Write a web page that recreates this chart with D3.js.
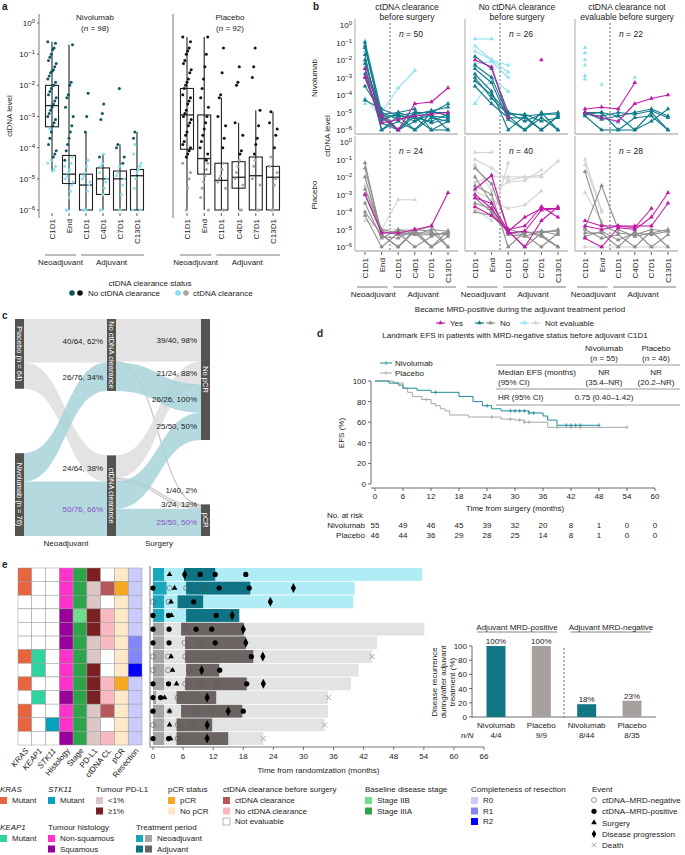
<!DOCTYPE html>
<html><head><meta charset="utf-8">
<script src="https://cdn.jsdelivr.net/npm/d3@7"></script>
<style>body{margin:0;background:#fff}text{font-family:"Liberation Sans",Arial,sans-serif;font-size:8px;fill:#222}</style>
</head><body><svg id="c" width="685" height="855"></svg>
<script>
// ================= DATA =================
// Panel a
const aCats=["C1D1","End","C1D1","C4D1","C7D1","C13D1"];
const aArms=["Nivolumab","Placebo"];
const aN=[98,92];
const nivoBox=[[-4.75,-3.33,-2.65,-2,-0.6],[-6,-5.15,-4.85,-4.25,-0.7],[-6,-6,-5.2,-4.85,-3.5],[-6,-5.5,-5,-4.65,-4.2],[-6,-6,-5,-4.75,-3.9],[-6,-6,-4.9,-4.7,-3.5]];
const placBox=[[-6,-4.05,-2.95,-2.1,-0.45],[-6,-4.85,-4.35,-2.95,-0.45],[-6,-6,-5.05,-4.5,-2.4],[-6,-5.3,-4.95,-4.45,-3.2],[-6,-6,-4.9,-4.3,-2.8],[-6,-6,-4.95,-4.6,-2.85]];
const nivoDark=[[-0.6,-0.65,-0.8,-0.85,-1,-1.1,-1.2,-1.3,-1.4,-1.5,-1.55,-1.6,-1.7,-1.8,-1.9,-2,-2,-2.1,-2.2,-2.3,-2.4,-2.5,-2.6,-2.7,-2.8,-2.9,-3,-3.1,-3.2,-3.3,-3.5,-3.7,-3.9,-4.1,-4.2,-4.3],
 [-0.7,-1.9,-2,-2.3,-2.4,-2.7,-3,-3.3,-3.5,-3.7,-3.9,-4.1,-4.4],[-2.25,-3,-3.5],[-2.6,-2.9,-3.1,-4.3],[-2.1,-3.9,-4,-4.3,-4.5],[-3.5,-3.7]];
const nivoLight=[[-4.5,-4.6,-4.7,-4.75,-4.4,-3.4],[-4.3,-4.5,-4.7,-4.8,-4.9,-5,-5.1,-5.2,-5.4,-5.6,-6,-6,-4.6],[-4.4,-4.6,-4.8,-4.9,-5,-5.1,-5.2,-5.4,-6,-6,-6],
 [-4.2,-4.5,-4.6,-4.8,-5,-5.1,-5.3,-5.5,-6,-6],[-4.6,-4.8,-4.9,-5,-5.2,-5.5,-6],[-3.9,-4.2,-4.5,-4.6,-4.7,-4.8,-5,-5.3,-6,-6]];
const placDark=[[-0.45,-0.6,-0.8,-0.9,-1,-1.2,-1.3,-1.5,-1.6,-1.8,-1.9,-2,-2.1,-2.3,-2.4,-2.5,-2.6,-2.8,-2.9,-3,-3.1,-3.2,-3.3,-3.5,-3.6,-3.8,-3.9,-4,-4.1,-4.2,-4.3],
 [-0.45,-1,-1.4,-1.8,-2.1,-2.4,-2.7,-3,-3.2,-3.4,-3.6,-3.8,-4,-4.2,-4.4],[-0.8,-1.6,-2.3,-2.4,-3,-3.3,-3.7,-4],[-1.4,-1.9,-2.0,-3.2,-3.6,-4.1,-4.2],[-0.8,-1.4,-1.75,-2.8,-3.3,-3.7,-3.9,-4.2],[-2.85,-3.2,-3.4,-3.6,-4.0]];
const placLight=[[-4.5,-4.8,-5,-5.3,-6],[-4.5,-4.7,-4.9,-5.1,-5.3,-5.6,-6],[-4.5,-4.7,-4.9,-5,-5.1,-5.3,-6,-6],[-4.4,-4.6,-4.8,-5,-5.2,-6,-6],[-4.4,-4.6,-5,-5.2,-6,-6],[-4.3,-4.6,-4.8,-5,-5.2,-6,-6]];

// Panel b  (status, C1D1, End, C1D1, C4D1, C7D1, C13D1) log10 values
const bTitles=[["ctDNA clearance","before surgery"],["No ctDNA clearance","before surgery"],["ctDNA clearance not","evaluable before surgery"]];
const bN=[[50,26,22],[24,40,28]];
const bNivoClear=[["ne",-0.9,-5,-3.6,-2.6,null,null],["ne",-4.2,-5.3,-5.1,-5.1,-5.3,-5.2],["ne",-4.5,null,null,null,null,null],["ne",-1.5,null,null,null,null,null],
 ["no",-1,-5,-6,-5,-5.2,-5.3],["no",-1.3,-5.2,-5.2,-6,-5,-5],["no",-2,-5.5,-5,-5.3,-6,-5.5],["no",-2.5,-6,-5.2,-5,-5,-4.5],["no",-3,-5.3,-6,-5.5,-5.1,-6],["no",-3.5,-5,-5.4,-5.1,-4.9,-5.2],["no",-1.7,-6,-5.5,-6,-5.3,-5.5],["no",-2.2,-5.1,-5,-4.8,-6,-6],["no",-4.3,-4.8,-5.2,-5.3,-5.5,-5.1],["no",-1.2,-5.4,-5.1,-5.5,-4.9,-4.7],["no",-2.8,-5.6,-6,-5.2,-5.6,-5.4],
 ["yes",-2.5,-5.2,-6,-4.5,-4.4,-3.6],["yes",-3,-5.6,-5.4,-5.2,-5.1,-5]];
const bNivoNoClear=[["ne",-0.8,-0.8,null,null,null,null],["ne",-1.2,-2,-2.3,null,null,null],["ne",-2.2,-2.1,-3,null,null,null],["ne",-4.5,-3,-3.8,null,null,null],["ne",-1.5,-2,-2.7,null,null,null],
 ["no",-1.8,-2.5,-5,-5.2,-5.1,-5.1],["no",-2.3,-3,-5.2,-6,-5.3,-6],["no",-2.8,-3.8,-6,-5.2,-6,-5.2],["no",-3.2,-4,-5,-5.5,-5.1,-5],["no",-3.5,-4.5,-5.3,-5.3,-6,-5.2],["no",-2.5,-3.3,-5.4,-6,-5,-6],["no",-3,-4.2,-5.1,-5.1,-5.5,-5.3],
 ["yes",-2,-2.4,-5.3,null,-2,null]];
const bNivoNE=[["ne",-1.3,null,null,null,null,null],["ne",-1.6,null,null,null,null,null],["ne",-2,null,null,null,null,null],["ne",-2.3,null,null,null,null,null],["ne",-2.9,null,null,null,null,null],["ne",-3.1,null,null,null,null,null],["ne",null,-3.4,null,null,null,null],["ne",null,null,null,-3,null,null],["ne",null,-5.3,-5.6,null,null,null],
 ["no",-5,-5,-6,-6,-5,-6],["no",-5.1,-5.2,-5,-5.1,-4.9,-5.3],["no",-5.2,-6,-6,-5.3,-5.2,-6],["no",-5,-5.4,-5.2,-5,-4.8,-5.2],["no",-5.1,-5,-5.2,-6,-5.5,-4.8],
 ["yes",-4.8,-4.7,-4.8,-3.3,null,null],["yes",-5,-5.3,-5.5,-4.5,-4.2,-4]];
const bPlacClear=[["ne",-2.5,-5,-3.3,-3.3,null,null],["ne",-4.5,-5,-5,-5,null,null],
 ["no",-1.5,-5.2,-5.1,-5.3,-5,-5.1],["no",-2,-5.3,-6,-5,-5.1,-6],["no",-2.7,-5,-5.2,-6,-5.4,-5.1],["no",-3.5,-5.5,-5,-5.2,-6,-5.4],["no",-4,-5.3,-6,-5.1,-4.8,-6],["no",-3,-5.1,-5.3,-5.2,-5.2,-5.3],["no",-4.2,-6,-5.2,-5.3,-5.3,-5.2],["no",-1.2,-5.4,-5.5,-5,-6,-5.1],
 ["yes",-3,-5.2,-5.2,-5,-4.8,-2.9]];
const bPlacNoClear=[["ne",-0.6,-0.6,null,null,null,null],["ne",-1,-1.5,-2.2,-2,-1.9,-1.1],["ne",-1.3,-2.8,-2.3,-2.2,-1.6,null],["ne",-2.8,-3.3,-3.8,-3.6,-2.8,null],["ne",-3.8,-4.5,-1.2,null,null,null],["ne",-2.3,-2,-2,-2,-2,null],
 ["no",-1.5,-2.4,-5,-5.2,-5.1,-5.1],["no",-2.5,-3,-6,-5.1,-5.3,-6],["no",-3.2,-4,-5.2,-5.3,-6,-5.2],["no",-4,-4.2,-5.1,-6,-5.2,-5],["no",-2,-3.5,-5.3,-5.4,-5.1,-5.3],["no",-3.5,-3.8,-5.2,-5.1,-5.4,-6],
 ["yes",-2.7,-1.9,-5.1,-4.3,-3.8,-3.8],["yes",-3.2,-3.5,-5.1,-6,-4.5,-3.7],["yes",-3.7,-4.2,-5,-4.8,-3.7,-4.3],["yes",-3,-3.8,-5.2,-5.1,-3.9,-3.8]];
const bPlacNE=[["ne",-1,-3.9,null,null,null,null],["ne",-1.3,-4,null,null,null,null],["ne",-2.9,-4.5,null,null,null,null],["ne",-6,-6,-6,-6,-6,-6],
 ["no",-1.7,-4.7,-5.2,-5.3,-5,-5.1],["no",-4.9,-2.5,-5,-5.4,-5.2,-5],["no",-5.2,-5.2,-6,-5.1,-6,-5.3],["no",-5,-5.5,-5.3,-6,-5.1,-6],["no",-5.4,-5.1,-5.6,-5.2,-5.3,-5.1],
 ["yes",-4.5,-4.8,-4.8,-4.8,-4.8,-3.5],["yes",-4.8,-5,-4.8,-4.9,-3.8,null],["yes",-5.5,-6,-4.9,-5,-4.3,-2.9]];

// Panel c (source, target, count, arm)
const cNodes=["Placebo (n = 64)","Nivolumab (n = 76)","No ctDNA clearance","ctDNA clearance","No pCR","pCR"];
const cFlows=[[0,2,40,"P"],[0,3,24,"P"],[1,2,26,"N"],[1,3,50,"N"],[2,4,39,"P"],[2,5,1,"P"],[2,4,26,"N"],[3,4,21,"P"],[3,5,3,"P"],[3,4,25,"N"],[3,5,25,"N"]];
const cTargetOrder=[[0,2],[1,3],[4,7,6,9],[5,8,10]];
const cLabels=["40/64, 62%","24/64, 38%","26/76, 34%","50/76, 66%","39/40, 98%","1/40, 2%","26/26, 100%","21/24, 88%","3/24, 12%","25/50, 50%","25/50, 50%"];

// Panel d
const dTicks=[0,6,12,18,24,30,36,42,48,54,60];
const nivoT=[0,3,5,6,9,12,18,21,23,25,27,33,36,37,39,48];
const nivoS=[100,98,96,93,91,89,85,80,76,73,71,69,66,62,57,57];
const nivoCens=[13,24,29,30,31,32,33,34,41,42,43,44,48];
const placT=[0,4,6,7,8,10,12,13,14,15,16,20,27,30,32,37,54];
const placS=[100,98,93,89,85,82,78,76,73,71,67,65,63,62,60,55,55];
const placCens=[11,25,29,31,32,33,39,42,44,54];
const riskNivo=[55,49,46,45,39,32,20,8,1,0,0];
const riskPlac=[46,44,36,29,28,25,14,8,1,0,0];

// Panel e
const eCols=["KRAS","KEAP1","STK11","Histology","Stage","PD-L1","ctDNA CL","pCR","Resection"];
const eHeat=[
 ["mut","w","w","ns","3a","hi","ne","no","r0"],["mut","w","w","ns","3a","lo","cl","p","r0"],["w","w","w","ns","3a","lo","ne","no","r0"],["w","w","w","sq","2b","hi","ncl","no","r0"],
 ["w","w","w","sq","3a","hi","ncl","no","r0"],["w","w","w","sq","3a","lo","ncl","no","r1"],["mut","k","w","ns","3a","lo","ne","no","r1"],["w","k","w","ns","3a","hi","ne","no","r2"],
 ["mut","w","w","ns","3a","hi","ncl","p","r0"],["w","k","w","sq","3a","hi","ncl","no","r0"],["mut","w","w","ns","3a","lo","cl","no","r0"],["mut","w","s","ns","3a","lo","ne","no","r0"],["w","w","w","sq","3a","lo","ncl","no","r0"]];
const eArm=["N","N","N","N","P","P","P","P","P","P","P","P","P"];
const eNeoEnd=[2.2,2.7,2.2,2.2,2.2,2.2,2.2,2.2,2.2,0.6,2.2,2.2,2.2];
const eAdj=[[6.2,12.4],[6.6,19.4],[4.9,10],[6.6,17.2],[5.6,18.1],[6.4,18.5],[6.4,20],[6.6,13.2],[6.4,18.7],[4.7,12.6],[5.6,17.8],[4.7,11.8],[4.7,15]];
const eTotal=[53.7,40.2,39.9,17.2,54.1,44.7,43.7,41,39.5,34.9,34.9,34.2,22];
const eEvents=[
 [[3.3,"s"],[6.3,"p"],[9.4,"f"],[12.4,"f"],[18.5,"f"]],
 [[0,"f"],[3.3,"o"],[4.3,"s"],[6.6,"o"],[10,"o"],[13.2,"f"],[19.2,"f"],[28,"p"]],
 [[0,"o"],[3.1,"o"],[3.6,"s"],[8.1,"f"],[23.4,"p"]],
 [[0,"f"],[3.1,"f"],[3.7,"s"],[12.6,"f"],[15.8,"p"]],
 [[0,"f"],[3.2,"f"],[6.3,"o"],[8.6,"f"],[11.7,"f"],[18,"p"]],
 [[0,"f"],[3.2,"f"],[6.3,"o"],[9.4,"o"],[12.4,"f"],[18.5,"p"]],
 [[0,"o"],[3.0,"o"],[3.6,"s"],[6.4,"o"],[9.6,"o"],[12.6,"o"],[19.6,"f"],[21.9,"p"],[43.7,"x"]],
 [[0,"o"],[3.0,"o"],[3.9,"s"],[7.2,"o"],[9.7,"p"],[13.3,"f"]],
 [[0,"f"],[3.1,"f"],[4.7,"s"],[6.4,"o"],[9.7,"o"],[12.7,"o"],[18.7,"f"],[22,"p"]],
 [[0,"f"],[1.5,"f"],[2.3,"s"],[4.9,"o"],[10.8,"p"],[35,"x"]],
 [[0,"f"],[3.3,"s"],[3.3,"o"],[8.8,"o"],[11.8,"o"],[15,"p"],[18,"f"]],
 [[0,"o"],[3.3,"s"],[4.9,"o"],[7.9,"o"],[10.8,"p"],[34.2,"x"]],
 [[0,"f"],[3.1,"f"],[3.5,"s"],[4.9,"o"],[10.8,"p"],[22,"x"]]];
const fCats=["Nivolumab","Placebo","Nivolumab","Placebo"];
const fVals=[100,100,18,23];
const fNN=["4/4","9/9","8/44","8/35"];

// ================= DRAW =================
const svg=d3.select("#c");
function T(x,y,t,o={}){const e=svg.append("text").attr("x",x).attr("y",y).text(t);
 if(o.a)e.attr("text-anchor",o.a);if(o.s)e.style("font-size",o.s+"px");if(o.w)e.style("font-weight",o.w);if(o.c)e.style("fill",o.c);if(o.i)e.style("font-style","italic");
 if(o.r!=null)e.attr("transform",`rotate(${o.r},${x},${y})`);return e;}
function pow(x,y,e){const t=svg.append("text").attr("x",x).attr("y",y).attr("text-anchor","end");t.append("tspan").text("10");t.append("tspan").attr("dy",-3).style("font-size","6px").text(e===0?"0":"−"+(-e));}
const L=(x1,y1,x2,y2,c="#333",w=0.8,da)=>{const l=svg.append("line").attr("x1",x1).attr("y1",y1).attr("x2",x2).attr("y2",y2).attr("stroke",c).attr("stroke-width",w);if(da)l.attr("stroke-dasharray",da);return l;};
const labels=[["a",2,10],["b",313,10],["c",2,319],["d",317,337],["e",2,568]];
labels.forEach(l=>T(l[1],l[2],l[0],{s:10,w:"bold"}));

// ---- Panel a
{
 const y=d3.scaleLinear().domain([-6,0]).range([210,23]);
 [0,-1,-2,-3,-4,-5,-6].forEach(e=>{pow(35,y(e)+3,e);L(37,y(e),39,y(e));});
 L(39,14,39,218,"#555");L(173,14,173,218,"#555");
 T(12,116,"ctDNA level",{a:"middle",r:-90});
 const ranges=[[52,137],[187,273]];
 const boxes=[nivoBox,placBox],dark=[nivoDark,placDark],light=[nivoLight,placLight];
 const dc=["#0f5663","#111"],lc=["#86dff0","#a9a2a2"];
 aArms.forEach((arm,k)=>{
  const x=d3.scalePoint().domain(d3.range(6)).range(ranges[k]);
  T(k?230:95,20,arm,{a:"middle"});
  const tn=T(k?230:95,31,"(",{a:"middle"});tn.append("tspan").style("font-style","italic").text("n");tn.append("tspan").text(" = "+aN[k]+")");
  boxes[k].forEach((b,i)=>{const xc=x(i);
   L(xc,y(b[0]),xc,y(b[4]),"#222",1.1);
   svg.append("rect").attr("x",xc-6.5).attr("y",y(b[3])).attr("width",13).attr("height",y(b[1])-y(b[3])).attr("fill","none").attr("stroke","#222").attr("stroke-width",1.1);
   L(xc-6.5,y(b[2]),xc+6.5,y(b[2]),"#222",1.3);
   [[light[k][i],lc[k]],[dark[k][i],dc[k]]].forEach(([arr,col])=>arr.forEach((v,j)=>{
    svg.append("circle").attr("cx",xc+((j*37+i*11)%13-6)*0.7).attr("cy",y(v)).attr("r",1.5).attr("fill",col);}));
   L(xc,213,xc,216);
   T(xc+3,219,aCats[i],{a:"end",r:-90});
  });
  L(x(0)-7,255,x(1)+7,255,"#555");L(x(2)-5,255,x(5)+7,255,"#555");
  T((x(0)+x(1))/2,265,"Neoadjuvant",{a:"middle"});T((x(2)+x(5))/2,265,"Adjuvant",{a:"middle"});
 });
 T(150,286,"ctDNA clearance status",{a:"middle"});
 [[72,dc[0]],[80,dc[1]],[178,lc[0]],[186,lc[1]]].forEach(d=>svg.append("circle").attr("cx",d[0]).attr("cy",293).attr("r",2.8).attr("fill",d[1]));
 T(88,296,"No ctDNA clearance");T(193,296,"ctDNA clearance");
}

// ---- Panel b
{
 const facets=[[bNivoClear,bNivoNoClear,bNivoNE],[bPlacClear,bPlacNoClear,bPlacNE]];
 const rowsY=[[130,25],[247,142]];
 const lefts=[355,465,575];
 const cols={N:{no:"#137c8b",ne:"#8fe3f2"},P:{no:"#8f8f8f",ne:"#d3d3d3"},yes:"#c01aa5"};
 const tri=d3.symbol(d3.symbolTriangle).size(9);
 bTitles.forEach((t,c)=>{T(lefts[c]+52,10,t[0],{a:"middle",s:8.5});T(lefts[c]+52,20,t[1],{a:"middle",s:8.5});});
 T(317,78,"Nivolumab",{a:"middle",r:-90});T(317,195,"Placebo",{a:"middle",r:-90});T(330,136,"ctDNA level",{a:"middle",r:-90});
 facets.forEach((row,r)=>{
  const y=d3.scaleLinear().domain([-6,0]).range(rowsY[r]);
  [0,-1,-2,-3,-4,-5,-6].forEach(e=>{pow(352,y(e)+3,e);});
  row.forEach((data,c)=>{
   const x=d3.scalePoint().domain(d3.range(6)).range([lefts[c]+10,lefts[c]+93]);
   L(lefts[c],rowsY[r][1]-6,lefts[c],rowsY[r][0]+4,"#aaa",1);
   L(lefts[c],rowsY[r][0]+4,lefts[c]+103,rowsY[r][0]+4,"#bbb",1.5);
   L(lefts[c]+35,rowsY[r][1]-2,lefts[c]+35,rowsY[r][0]+4,"#444",0.8,"2,2");
   const tn=T(lefts[c]+44,rowsY[r][1]+12,"",{s:8.5});tn.append("tspan").style("font-style","italic").text("n");tn.append("tspan").text(" = "+bN[r][c]);
   const arm=r?"P":"N";
   ["ne","no","yes"].forEach(st=>{
    const col=st==="yes"?cols.yes:cols[arm][st];
    data.filter(d=>d[0]===st).forEach(d=>{
     const v=d.slice(1);
     for(let i=0;i<5;i++)if(v[i]!=null&&v[i+1]!=null)L(x(i),y(v[i]),x(i+1),y(v[i+1]),col,1.1);
     v.forEach((vv,i)=>{if(vv!=null)svg.append("path").attr("d",tri).attr("transform",`translate(${x(i)},${y(vv)})`).attr("fill",col);});
    });
   });
   if(r===1){
    aCats.forEach((cn,i)=>{L(x(i),252,x(i),255);T(x(i)+3,258,cn,{a:"end",r:-90});});
    L(x(0)-8,287,x(1)+6,287,"#555");L(x(2)-5,287,x(5)+8,287,"#555");
    T((x(0)+x(1))/2,297,"Neoadjuvant",{a:"middle"});T((x(2)+x(5))/2,297,"Adjuvant",{a:"middle"});
   }
  });
 });
 T(520,312,"Became MRD-positive during the adjuvant treatment period",{a:"middle"});
 const leg=[[436,[cols.yes],"Yes"],[475,[cols.N.no,cols.P.no],"No"],[520,[cols.N.ne,cols.P.ne],"Not evaluable"]];
 leg.forEach(([x0,cs,t])=>{cs.forEach((c,k)=>{L(x0+k*11,323,x0+k*11+9,323,c,1.2);svg.append("path").attr("d",tri).attr("transform",`translate(${x0+k*11+4.5},323)`).attr("fill",c);});T(x0+cs.length*11+3,326,t);});
}

// ---- Panel c
{
 const k=1.09,nx=[15,107,201],nw=9;
 const nodeCol=[0,0,1,1,2,2];
 const nodeTop={0:319,2:319,4:319};
 const tot=cNodes.map((_,i)=>Math.max(d3.sum(cFlows.filter(f=>f[0]===i),f=>f[2]),d3.sum(cFlows.filter(f=>f[1]===i),f=>f[2])));
 const y0=cNodes.map((_,i)=>nodeTop[i]!=null?nodeTop[i]:536-tot[i]*k);
 const so={},acc={},to={};
 cFlows.forEach((f,i)=>{acc[f[0]]=acc[f[0]]||0;so[i]=acc[f[0]];acc[f[0]]+=f[2];});
 cTargetOrder.forEach(ord=>{let a=0;ord.forEach(fi=>{to[fi]=a;a+=cFlows[fi][2];});});
 const cols={P:"#dedede",N:"#a7d3d9"};
 const fl=cFlows.map((f,i)=>{const sx=nx[nodeCol[f[0]]]+nw,tx=nx[nodeCol[f[1]]];
  const sy=y0[f[0]]+so[i]*k,ty=y0[f[1]]+to[i]*k,h=f[2]*k,mx=(sx+tx)/2;return {f,i,sx,tx,sy,ty,h,mx};});
 ["P","N"].forEach(arm=>fl.filter(d=>d.f[3]===arm).forEach(d=>{
  const p=`M${d.sx},${d.sy}C${d.mx},${d.sy} ${d.mx},${d.ty} ${d.tx},${d.ty}L${d.tx},${d.ty+d.h}C${d.mx},${d.ty+d.h} ${d.mx},${d.sy+d.h} ${d.sx},${d.sy+d.h}Z`;
  svg.append("path").attr("d",p).attr("fill",cols[arm]).attr("opacity",d.f[2]<5?1:0.85).attr("stroke",d.f[2]<5?"#bbb":"none").attr("stroke-width",0.6);
 }));
 cNodes.forEach((n,i)=>{const x=nx[nodeCol[i]];svg.append("rect").attr("x",x).attr("y",y0[i]).attr("width",nw).attr("height",tot[i]*k).attr("fill","#555350");
  T(x+nw/2-2.7,y0[i]+tot[i]*k/2,n,{a:"middle",c:"#fff",r:90,s:7.5});});
 const shift=[0,0,0,0,0,-15,0,0,-3,0,0];
 fl.forEach((d,i)=>{const purple=(d.f[3]==="N"&&(d.f[1]===3||d.f[1]===5));
  T(d.f[0]<2?103:197,d.ty+d.h/2+3+shift[i],cLabels[i],{a:"end",c:purple?"#8a4fc7":"#222"});});
 T(66,546,"Neoadjuvant",{a:"middle"});T(159,546,"Surgery",{a:"middle"});
}

// ---- Panel d
{
 const x=d3.scaleLinear().domain([0,60]).range([375,655]);
 const y=d3.scaleLinear().domain([0,100]).range([484,381]);
 T(515,338,"Landmark EFS in patients with MRD-negative status before adjuvant C1D1",{a:"middle"});
 L(371,y(100),371,y(0),"#444");L(371,488,x(60),488,"#444");
 [0,20,40,60,80,100].forEach(v=>{L(368,y(v),371,y(v),"#444");T(366,y(v)+3,v,{a:"end"});});
 dTicks.forEach(v=>{L(x(v),488,x(v),491,"#444");T(x(v),499,v,{a:"middle"});});
 T(344,433,"EFS (%)",{a:"middle",r:-90});
 T(x(30),511,"Time from surgery (months)",{a:"middle"});
 const draw=(ts,ss,cens,col)=>{
  const pts=ts.map((t,i)=>[t,ss[i]]);
  svg.append("path").attr("d",d3.line().curve(d3.curveStepAfter).x(d=>x(d[0])).y(d=>y(d[1]))(pts)).attr("fill","none").attr("stroke",col).attr("stroke-width",1);
  cens.forEach(c=>{let s=ss[0];ts.forEach((t,i)=>{if(t<=c)s=ss[i];});L(x(c),y(s)-2,x(c),y(s)+2,col,0.8);L(x(c)-1.5,y(s),x(c)+1.5,y(s),col,0.8);});
 };
 draw(placT,placS,placCens,"#a6a6a6");draw(nivoT,nivoS,nivoCens,"#1f8a9a");
 [[363,"#1f8a9a","Nivolumab"],[373,"#a6a6a6","Placebo"]].forEach(([yy,c,t])=>{L(380,yy,392,yy,c,1);L(386,yy-2,386,yy+2,c,0.8);T(395,yy+3,t);});
 T(604,351,"Nivolumab",{a:"middle"});T(656,351,"Placebo",{a:"middle"});
 [[604,55],[656,46]].forEach(([xx,n])=>{const t=T(xx,361,"(",{a:"middle"});t.append("tspan").style("font-style","italic").text("n");t.append("tspan").text(" = "+n+")");});
 L(496,365,680,365,"#999",1.2);L(496,389,680,389,"#999",1.2);L(496,405,680,405,"#999",1.2);
 T(498,375,"Median EFS (months)");T(498,385,"(95% CI)");
 T(604,375,"NR",{a:"middle"});T(604,385,"(35.4–NR)",{a:"middle"});T(656,375,"NR",{a:"middle"});T(656,385,"(20.2–NR)",{a:"middle"});
 T(498,400,"HR (95% CI)");T(604,400,"0.75 (0.40–1.42)",{a:"middle"});
 T(327,518,"No. at risk");T(365,528,"Nivolumab",{a:"end"});T(365,538,"Placebo",{a:"end"});
 dTicks.forEach((v,i)=>{T(x(v),528,riskNivo[i],{a:"middle"});T(x(v),538,riskPlac[i],{a:"middle"});});
}

// ---- Panel e
{
 const hx=d3.scaleBand().domain(eCols).range([18,142]);
 const ry=d3.scaleBand().domain(d3.range(13)).range([568,745]).paddingInner(0.06);
 const hc={mut:"#e8643c",w:"#fff",k:"#2fd3a0",s:"#08a0c0",ns:"#ff33cc",sq:"#990099","3a":"#2ca54a","2b":"#6ede8a",lo:"#dcc6c6",hi:"#7a1f22",cl:"#b5585a",ncl:"#f9b9c1",ne:"#fff",p:"#f7a823",no:"#fde8c8",r0:"#cbcbfb",r1:"#8585fa",r2:"#0000ff"};
 const hy=d3.scaleBand().domain(d3.range(13)).range([568,745]);
 eHeat.forEach((row,r)=>row.forEach((v,c)=>svg.append("rect").attr("x",hx(eCols[c])).attr("y",hy(r)).attr("width",hx.bandwidth()).attr("height",hy.bandwidth()).attr("fill",hc[v]).attr("stroke","#999").attr("stroke-width",0.5)));
 eCols.forEach(c=>T(hx(c)+hx.bandwidth()/2+4,751,c,{a:"end",r:-50,i:["KRAS","KEAP1","STK11"].includes(c)}));
 const x=d3.scaleLinear().domain([0,66]).range([153,484]);
 L(150,566,150,747,"#555");L(150,747,484,747,"#555");
 d3.range(0,67,6).forEach(v=>{L(x(v),747,x(v),750,"#555");T(x(v),759,v,{a:"middle"});});
 T(x(33),773,"Time from randomization (months)",{a:"middle"});
 const bc={N:["#b0ecf6","#1aa6bb","#0e7384"],P:["#e3e3e3","#a8a3a2","#6c6463"]};
 const bh=ry.bandwidth();
 eTotal.forEach((t,r)=>{const c=bc[eArm[r]],yy=ry(r);
  svg.append("rect").attr("x",x(0)).attr("y",yy).attr("width",x(t)-x(0)).attr("height",bh).attr("fill",c[0]);
  svg.append("rect").attr("x",x(0)).attr("y",yy).attr("width",x(eNeoEnd[r])-x(0)).attr("height",bh).attr("fill",c[1]);
  svg.append("rect").attr("x",x(eAdj[r][0])).attr("y",yy).attr("width",x(eAdj[r][1])-x(eAdj[r][0])).attr("height",bh).attr("fill",c[2]);
  eEvents[r].forEach(([tt,ty])=>{const cx=x(tt),cy=yy+bh/2;
   if(ty==="o")svg.append("circle").attr("cx",cx).attr("cy",cy).attr("r",2.5).attr("fill","none").attr("stroke","#555").attr("stroke-width",0.6);
   else if(ty==="f")svg.append("circle").attr("cx",cx).attr("cy",cy).attr("r",2.6).attr("fill","#000");
   else if(ty==="s")svg.append("path").attr("d",d3.symbol(d3.symbolTriangle).size(14)()).attr("transform",`translate(${cx},${cy})`).attr("fill","#000");
   else if(ty==="p")svg.append("path").attr("d","M0,-5L2.6,0L0,5L-2.6,0Z").attr("transform",`translate(${cx},${cy})`).attr("fill","#000");
   else if(ty==="x"){L(cx-2.5,cy-2.5,cx+2.5,cy+2.5,"#888",0.7);L(cx-2.5,cy+2.5,cx+2.5,cy-2.5,"#888",0.7);}
  });
 });
 const fx=d3.scalePoint().domain(d3.range(4)).range([496,632]);
 const fy=d3.scaleLinear().domain([0,100]).range([717,646]);
 L(472,646,472,717,"#444");L(472,717,656,717,"#444");
 [0,20,40,60,80,100].forEach(v=>{L(469,fy(v),472,fy(v),"#444");T(467,fy(v)+3,v,{a:"end"});});
 T(437,682,"Disease recurrence",{a:"middle",r:-90});T(446,682,"during/after adjuvant",{a:"middle",r:-90});T(455,682,"treatment (%)",{a:"middle",r:-90});
 fVals.forEach((v,i)=>{svg.append("rect").attr("x",fx(i)-9.5).attr("y",fy(v)).attr("width",19).attr("height",fy(0)-fy(v)).attr("fill",i%2?"#a6a09f":"#127685");
  T(fx(i),fy(v)-2,v+"%",{a:"middle"});T(fx(i),728,fCats[i],{a:"middle"});T(fx(i),738,fNN[i],{a:"middle"});});
 T(461,738,"n/N",{i:1});
 L(564,648,564,717,"#444",0.8,"2,2");
 T(517,630,"Adjuvant MRD-positive",{a:"middle"});L(477,632,557,632,"#333",0.6);
 T(611,630,"Adjuvant MRD-negative",{a:"middle"});L(571,632,651,632,"#333",0.6);
}

// ---- Legend e
{
 const sw=(x,y,c,st)=>svg.append("rect").attr("x",x).attr("y",y-6).attr("width",7).attr("height",7).attr("fill",c).attr("stroke",st||"none").attr("stroke-width",0.6);
 const groups=[
  [0,792,"KRAS",1,[[["#e8643c"],"Mutant"]]],[48,792,"STK11",1,[[["#08a0c0"],"Mutant"]]],
  [96,792,"Tumour PD-L1",0,[[["#dcc6c6"],"<1%"],[["#7a1f22"],"≥1%"]]],[168,792,"pCR status",0,[[["#f7a823"],"pCR"],[["#fde8c8"],"No pCR"]]],
  [223,792,"ctDNA clearance before surgery",0,[[["#b5585a"],"ctDNA clearance"],[["#f9b9c1"],"No ctDNA clearance"],[["#fff"],"Not evaluable"]]],
  [365,792,"Baseline disease stage",0,[[["#6ede8a"],"Stage IIB"],[["#2ca54a"],"Stage IIIA"]]],
  [471,792,"Completeness of resection",0,[[["#cbcbfb"],"R0"],[["#8585fa"],"R1"],[["#0000ff"],"R2"]]],
  [0,830,"KEAP1",1,[[["#2fd3a0"],"Mutant"]]],[48,830,"Tumour histology",0,[[["#ff33cc"],"Non-squamous"],[["#990099"],"Squamous"]]],
  [136,830,"Treatment period",0,[[["#1aa6bb","#a8a3a2"],"Neoadjuvant"],[["#0e7384","#6c6463"],"Adjuvant"]]]];
 groups.forEach(([x,y,t,it,items])=>{T(x,y,t,{i:it});items.forEach(([cs,lab],j)=>{const yy=y+11+j*10.5;cs.forEach((c,k)=>sw(x+k*9,yy,c,c==="#fff"?"#888":null));T(x+cs.length*9+3,yy,lab);});});
 T(592,792,"Event");
 const ev=[["o","ctDNA–MRD-negative"],["f","ctDNA–MRD-positive"],["s","Surgery"],["p","Disease progression"],["x","Death"]];
 ev.forEach(([ty,lab],j)=>{const cy=803+j*11.3,cx=594;
  if(ty==="o")svg.append("circle").attr("cx",cx).attr("cy",cy-3).attr("r",2.5).attr("fill","none").attr("stroke","#555").attr("stroke-width",0.6);
  else if(ty==="f")svg.append("circle").attr("cx",cx).attr("cy",cy-3).attr("r",2.6).attr("fill","#000");
  else if(ty==="s")svg.append("path").attr("d",d3.symbol(d3.symbolTriangle).size(14)()).attr("transform",`translate(${cx},${cy-3})`).attr("fill","#000");
  else if(ty==="p")svg.append("path").attr("d","M0,-4L2.3,0L0,4L-2.3,0Z").attr("transform",`translate(${cx},${cy-3})`).attr("fill","#000");
  else {L(cx-2.3,cy-5.3,cx+2.3,cy-0.7,"#888",0.7);L(cx-2.3,cy-0.7,cx+2.3,cy-5.3,"#888",0.7);}
  T(602,cy,lab);});
}
</script></body></html>
